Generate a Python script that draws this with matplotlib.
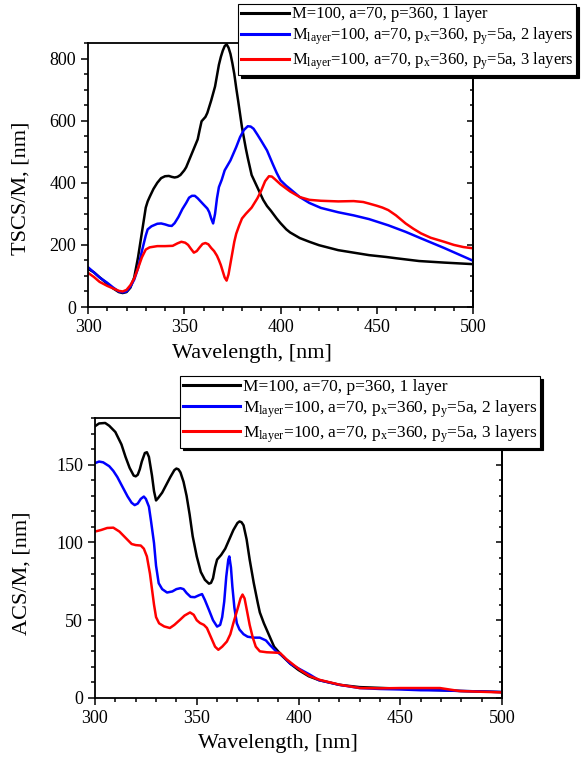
import numpy as np
import matplotlib
matplotlib.use("Agg")
import matplotlib.pyplot as plt
from matplotlib.ticker import MultipleLocator

SERIF = "Liberation Serif"
plt.rcParams["font.family"] = "serif"
plt.rcParams["font.serif"] = [SERIF, "DejaVu Serif"]
plt.rcParams["mathtext.fontset"] = "custom"
plt.rcParams["mathtext.rm"] = SERIF
plt.rcParams["mathtext.it"] = SERIF + ":italic"

# TSCS/M (top panel)
wl_t1 = [300, 303, 306, 310, 313, 316, 318, 320, 322, 324, 326, 328, 330, 331, 332, 334, 336, 338,
         340, 342, 343.5, 345, 346.5, 348, 350, 351, 353, 355, 357, 358, 359, 360, 361, 362, 364,
         366, 368, 369, 370, 371, 372, 373, 374, 375, 376, 377, 378, 380, 382, 383, 385, 388, 391,
         393, 395, 398, 400, 403, 405, 410, 415, 420, 425, 430, 438, 446, 455, 460, 472, 485, 500]
ts_t1 = [123, 112, 96, 75, 60, 48, 45, 48, 62, 95, 160, 240, 320, 340, 354, 380, 400, 415,
         421, 422, 419, 417, 419, 425, 440, 450, 480, 510, 540, 570, 598, 605, 612, 625, 665,
         710, 780, 805, 825, 840, 846, 835, 815, 785, 750, 705, 664, 578, 510, 480, 425, 385, 345,
         325, 310, 285, 270, 250, 240, 222, 210, 199, 191, 183, 175, 167, 161, 157, 148, 143, 138]

wl_t2 = [300, 303, 306, 310, 313, 316, 318, 320, 322, 324, 326, 328, 330, 331, 333, 336, 338, 340,
         342, 343.5, 345, 347, 349, 351, 352.5, 354, 355.5, 357, 358.5, 360, 362, 363, 364, 365,
         366, 367, 368, 369.5, 371, 374, 377, 379, 381, 383, 384.5, 386, 388, 390, 393, 396, 398,
         400, 403, 405, 410, 415, 421, 430, 438, 446, 456, 465, 473, 485, 500]
ts_t2 = [128, 112, 95, 78, 63, 50, 47, 50, 65, 88, 125, 180, 230, 250, 260, 268, 269, 266,
         262, 261, 270, 290, 315, 335, 352, 358, 358, 350, 340, 330, 317, 305, 285, 269,
         300, 350, 386, 410, 440, 472, 515, 547, 570, 582, 581, 574, 555, 535, 504, 460, 432,
         408, 390, 380, 354, 335, 319, 305, 295, 283, 263, 242, 221, 190, 149]

wl_t3 = [300, 303, 306, 310, 313, 316, 318, 320, 322, 324, 326, 328, 330, 332, 336, 340, 344, 346.5,
         348.5, 350.5, 352, 353.5, 355, 356.5, 358, 359.5, 361, 362.5, 364, 365.5, 367, 368, 369,
         370, 371, 372, 373, 374, 375, 376, 377, 378.5, 380, 382, 385, 388, 390, 392, 394, 395.5,
         397, 400, 405, 410, 415, 421, 430, 438, 443, 446, 450, 453, 456, 460, 465, 469, 473, 478,
         485, 490, 495, 500]
ts_t3 = [110, 97, 81, 68, 60, 52, 50, 55, 70, 92, 125, 160, 185, 192, 196, 196, 197, 205,
         210, 207, 200, 187, 175, 180, 192, 203, 206, 202, 190, 180, 165, 151, 135,
         115, 95, 85, 105, 140, 175, 210, 236, 262, 285, 300, 320, 350, 375, 405, 421, 420,
         412, 395, 372, 354, 345, 342, 340, 341, 338, 333, 326, 320, 312, 295, 269, 252, 237, 223,
         210, 200, 193, 189]

# ACS/M (bottom panel)
wl_a1 = [300, 302, 305, 307, 310, 313, 315, 317, 319, 320, 321, 322, 323, 324.5, 325.5, 326.5, 328,
         329, 330, 331, 333, 335, 337, 339, 340, 341, 342, 343.5, 345, 346.5, 348, 350, 352, 354,
         356, 357, 358, 359, 360, 362, 364, 366, 368, 370, 371, 372, 373, 374.5, 376, 378, 380,
         381, 383, 385, 388, 392, 396, 400, 405, 410, 420, 430, 440, 450, 460, 470, 480, 490, 500]
ac_a1 = [174.7, 176.5, 176.8, 175, 171, 163, 155, 148, 143, 142.5, 143.5, 147, 152, 157.5, 158, 155, 143,
         133, 127, 128.5, 132, 137, 142, 146.5, 147.5, 147, 145, 139, 130, 118, 104, 91, 81, 76,
         73.5, 74, 77, 84, 89, 92, 96, 102, 108, 112.5, 113.5, 113, 111, 102, 89, 74, 61,
         55, 48, 42, 33, 27, 22, 18, 14, 11.5, 8.5, 7, 6.5, 6, 5.5, 5, 4.5, 4.2, 3.8]

wl_a2 = [300, 302, 304, 307, 309, 311, 313, 316, 318, 319.5, 321, 322.5, 324, 325, 326.5, 327.5, 329,
         330, 331.3, 333, 335.4, 338, 340, 342, 343.5, 345, 347, 349, 351, 352.6, 354, 356, 358,
         360, 361.5, 362.5, 363.5, 364.5, 365.5, 366, 366.8, 367.5, 368.5, 369.7, 371, 373, 375,
         378, 381, 384, 386, 389, 392.5, 396, 400, 405.6, 410, 420, 430, 440, 450, 460, 470, 480,
         490, 500]
ac_a2 = [151, 152, 151.5, 149, 146, 142, 137, 129.6, 125.5, 124, 125, 128, 129.5, 128, 123, 114, 99.6,
         85, 73.8, 70, 67.8, 68.5, 70, 70.6, 70, 67.5, 65, 64.8, 66, 66.8, 63, 56.6, 50,
         45.9, 47, 52, 62, 78, 89, 91, 84, 71.7, 58, 48, 44, 41, 39.4,
         38.8, 38.8, 37, 34, 30, 26.7, 22, 19, 15, 11.5, 8.5, 6.4, 5.8, 5.5, 5, 4.9, 4.5,
         4.2, 3.8]

wl_a3 = [300, 303, 306, 309, 312, 315, 318, 320, 322.5, 324, 325.5, 327, 328, 329, 330, 331.5, 334,
         336.8, 339, 341.8, 344, 346.7, 348.5, 350, 351.6, 353.5, 355, 357, 359, 360.6, 362.5,
         364.8, 366.5, 368, 370, 371.5, 372.5, 373.5, 374.6, 376, 377.5, 379, 381, 384.4, 388,
         390.9, 394, 397.5, 400.8, 405.6, 410.6, 420.4, 430.2, 440, 450, 459.7, 469.5, 479, 490, 500]
ac_a3 = [107, 108, 109.3, 109.5, 107, 103, 99, 98.3, 98, 96, 91, 80, 70, 60, 52, 48, 46,
         45, 47, 50.3, 53, 55, 53.5, 50, 48.2, 47, 45, 39, 33, 31, 33,
         36.3, 41, 48.2, 57, 64, 66.5, 64, 56.6, 47, 39, 33, 30, 29.4, 29.2,
         29, 25, 21.4, 18, 14, 11.6, 8.5, 6.4, 6.2, 6.4, 6.4, 6.4, 4.5, 4, 3.6]

labels = ["M=100, a=70, p=360, 1 layer",
          r"M$_{\mathrm{layer}}$=100, a=70, p$_{\mathrm{x}}$=360, p$_{\mathrm{y}}$=5a, 2 layers",
          r"M$_{\mathrm{layer}}$=100, a=70, p$_{\mathrm{x}}$=360, p$_{\mathrm{y}}$=5a, 3 layers"]
colors = ["black", "#0000ff", "#ff0000"]

W, H = 581, 764
fig = plt.figure(figsize=(W / 100, H / 100), dpi=100)


def style_axes(ax, ymax, ymaj, ymin_step):
    ax.set_xlim(300, 500)
    ax.set_ylim(0, ymax)
    ax.xaxis.set_major_locator(MultipleLocator(50))
    ax.xaxis.set_minor_locator(MultipleLocator(10))
    ax.yaxis.set_major_locator(MultipleLocator(ymaj))
    ax.yaxis.set_minor_locator(MultipleLocator(ymin_step))
    ax.tick_params(which="both", direction="out", labelsize=13, width=1.1,
                   labelfontfamily=SERIF)
    ax.tick_params(which="major", length=5)
    ax.tick_params(which="minor", length=3)
    for s in ax.spines.values():
        s.set_linewidth(1.3)
    # ticks on right spine point inwards
    ax2 = ax.secondary_yaxis("right")
    ax2.yaxis.set_major_locator(MultipleLocator(ymaj))
    ax2.yaxis.set_minor_locator(MultipleLocator(ymin_step))
    ax2.tick_params(which="both", direction="in", labelright=False, width=1.1)
    ax2.tick_params(which="major", length=4)
    ax2.tick_params(which="minor", length=2.5)
    ax2.spines["right"].set_linewidth(1.3)


def add_legend(ax, x0, y0, size, hlen):
    ha, lb = ax.get_legend_handles_labels()
    leg = fig.legend(ha, lb, loc="upper left", bbox_to_anchor=(x0 / W, 1 - y0 / H),
                     prop={"family": SERIF, "size": size}, frameon=True, fancybox=False,
                     shadow={"color": "black", "alpha": 1}, edgecolor="black", framealpha=1,
                     borderaxespad=0, borderpad=0.15, labelspacing=0.2, handlelength=hlen,
                     handletextpad=0.2)
    leg.get_frame().set_linewidth(0.8)
    for l in leg.get_lines():
        l.set_linewidth(2.2)
    return leg


# top panel
ax1 = fig.add_axes([88 / W, 1 - 307 / H, 385 / W, 264 / H])
for x, y, c, lb in zip([wl_t1, wl_t2, wl_t3], [ts_t1, ts_t2, ts_t3], colors, labels):
    ax1.plot(x, y, color=c, lw=1.8, label=lb)
style_axes(ax1, 850, 200, 50)
ax1.set_xlabel("Wavelength, [nm]", fontsize=16, family=SERIF)
ax1.set_ylabel("TSCS/M, [nm]", fontsize=16, family=SERIF)
ax1.xaxis.set_label_coords(0.426, -0.14)
ax1.yaxis.set_label_coords(-0.15, 0.45)
add_legend(ax1, 238, 4, 12, 2.9)

# bottom panel
ax3 = fig.add_axes([95 / W, 1 - 698 / H, 407 / W, 280 / H])
for x, y, c, lb in zip([wl_a1, wl_a2, wl_a3], [ac_a1, ac_a2, ac_a3], colors, labels):
    ax3.plot(x, y, color=c, lw=1.8, label=lb)
style_axes(ax3, 180, 50, 10)
ax3.set_xlabel("Wavelength, [nm]", fontsize=16, family=SERIF)
ax3.set_ylabel("ACS/M, [nm]", fontsize=16, family=SERIF)
ax3.xaxis.set_label_coords(0.45, -0.13)
ax3.yaxis.set_label_coords(-0.155, 0.446)
add_legend(ax3, 180, 376, 12.5, 3.3)

fig.savefig("out.png", dpi=100)
